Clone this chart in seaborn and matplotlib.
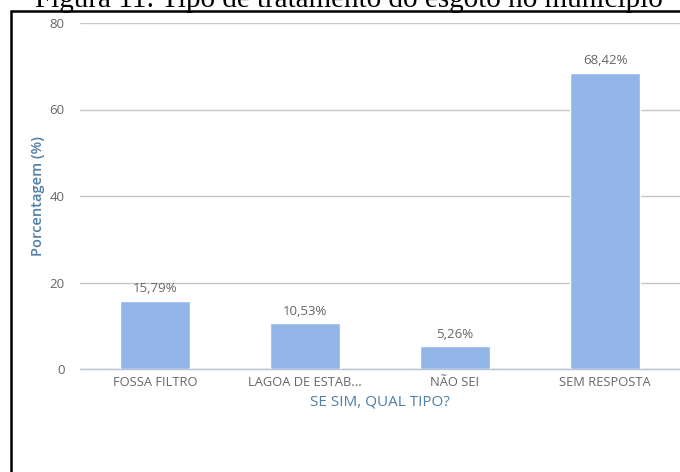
import numpy as np
import pandas as pd
import matplotlib
matplotlib.use("Agg")
import matplotlib.pyplot as plt
from matplotlib.patches import Rectangle
import seaborn as sns

# dados
categorias = ["FOSSA FILTRO", "LAGOA DE ESTAB...", "NÃO SEI", "SEM RESPOSTA"]
porcentagens = [15.79, 10.53, 5.26, 68.42]
rotulos = ["15,79%", "10,53%", "5,26%", "68,42%"]
y_ticks = [0, 20, 40, 60, 80]

df = pd.DataFrame({"categoria": categorias, "pct": porcentagens})

sns.set_theme(style="white")
plt.rcParams["font.family"] = ["Open Sans", "DejaVu Sans"]

COR_BARRA = "#93b5e8"
COR_TEXTO = "#666666"
COR_TITULO_EIXO = "#4f7ea6"

fig = plt.figure(figsize=(6.8, 4.72), dpi=100)
ax = fig.add_axes([80 / 680, 1 - 369 / 472, 1 - 80 / 680, (369 - 23) / 472])

sns.barplot(data=df, x="categoria", y="pct", color=COR_BARRA, width=0.47,
            saturation=1, ax=ax, zorder=3)

for i, (v, r) in enumerate(zip(porcentagens, rotulos)):
    ax.text(i, v + 1.3, r, ha="center", va="bottom", fontsize=9.5, color=COR_TEXTO)

ax.set_ylim(0, 80)
ax.set_xlim(-0.5, 3.5)
ax.set_yticks(y_ticks)
ax.yaxis.grid(True, color="#c8c8c8", linewidth=1)
ax.set_axisbelow(True)
for s in ["top", "right", "left"]:
    ax.spines[s].set_visible(False)
ax.spines["bottom"].set_color("#b8c4d4")
ax.spines["bottom"].set_linewidth(1)

ax.tick_params(axis="y", length=0, labelsize=9.5, labelcolor=COR_TEXTO, pad=11)
ax.tick_params(axis="x", which="major", length=0, labelsize=9.3, labelcolor=COR_TEXTO, pad=5)
ax.set_xticks([-0.5, 0.5, 1.5, 2.5], minor=True)
ax.tick_params(axis="x", which="minor", length=5, color="#b8c4d4", width=1, direction="out")

ax.set_xlabel("SE SIM, QUAL TIPO?", fontsize=11, color=COR_TITULO_EIXO, labelpad=4,
              fontweight="medium")
ax.set_ylabel("Porcentagem (%)", fontsize=10.5, color=COR_TITULO_EIXO, labelpad=3,
              fontweight="semibold")

# moldura do documento
fig.patches.append(Rectangle((11 / 680, -0.05), 1.0, 1 - 11 / 472 + 0.05,
                             transform=fig.transFigure, fill=False,
                             edgecolor="black", linewidth=1.8, zorder=10))

# título cortado no topo
fig.text(0.513, 1 - 7 / 472, "Figura 11: Tipo de tratamento do esgoto no município",
         ha="center", va="baseline", fontsize=21, color="black",
         family=["Liberation Serif", "DejaVu Serif"])

fig.savefig("out.png", dpi=100, facecolor="white")
